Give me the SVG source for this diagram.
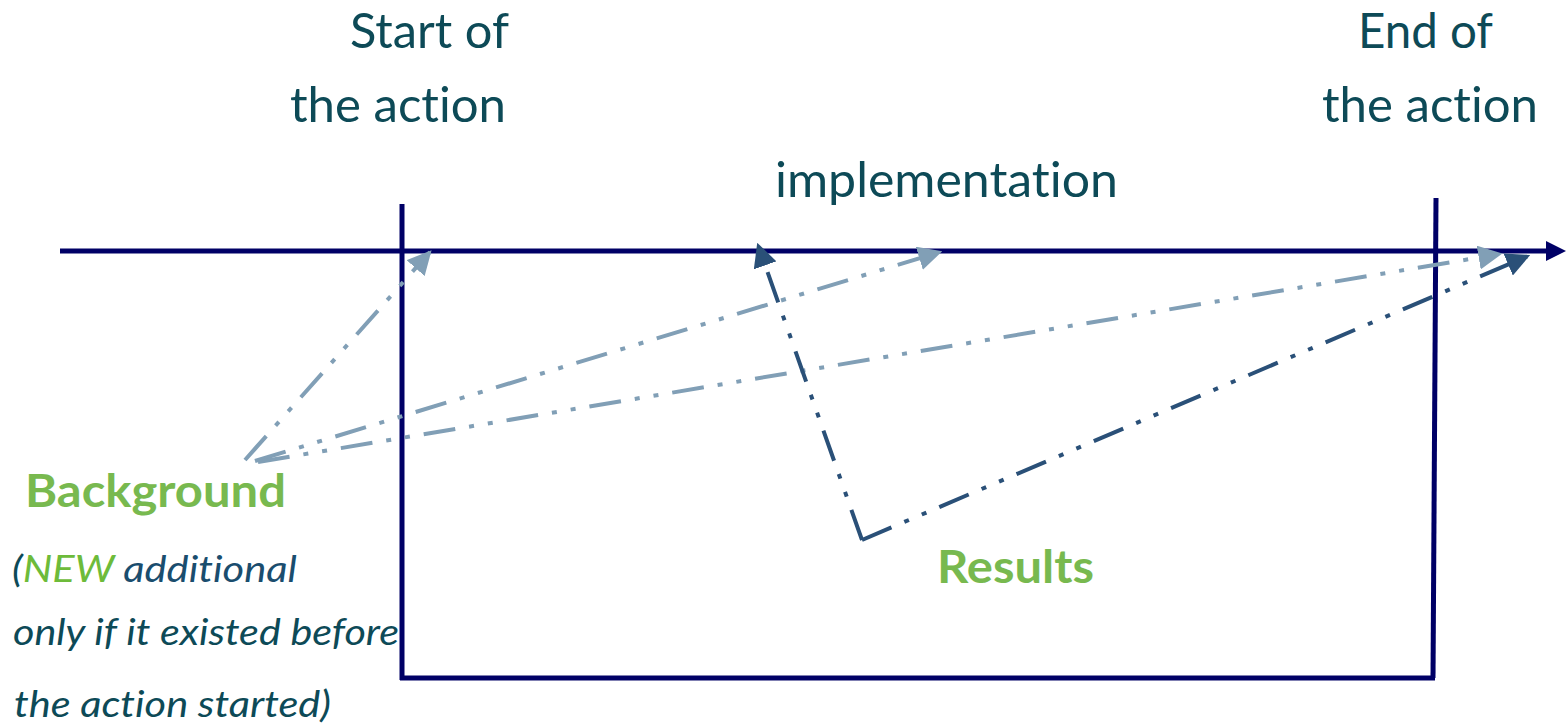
<svg xmlns="http://www.w3.org/2000/svg" width="1566" height="728" viewBox="0 0 1566 728">
<style>
text{font-variant-ligatures:none}
.t{font-family:Lato,"Open Sans","Liberation Sans",sans-serif;fill:#0d4a57;font-size:48px}
.g{font-family:Lato,"Open Sans","Liberation Sans",sans-serif;fill:#78b94f;font-size:45px;font-weight:bold}
.i{font-family:Lato,"Open Sans","Liberation Sans",sans-serif;fill:#0d4a57;font-size:37px;font-style:italic}
.frame{stroke:#000066;stroke-width:5;fill:none}
.lt{stroke:#819fb6;stroke-width:4;fill:none;stroke-dasharray:32 14 5 14 5 14}
.dk{stroke:#2a5078;stroke-width:4;fill:none;stroke-dasharray:32 14 5 14 5 14}
</style>
<defs>
<marker id="la" viewBox="0 0 10 10" refX="9" refY="5" markerWidth="6" markerHeight="6" orient="auto"><path d="M0,0 L10,5 L0,10 z" fill="#819fb6"/></marker>
<marker id="da" viewBox="0 0 10 10" refX="9" refY="5" markerWidth="6" markerHeight="6" orient="auto"><path d="M0,0 L10,5 L0,10 z" fill="#2a5078"/></marker>
</defs>
<g id="frame">
<line x1="60" y1="251" x2="1548" y2="251" class="frame"/>
<path d="M1546,241 L1566,251 L1546,261 z" fill="#000066"/>
<line x1="402" y1="204" x2="402" y2="680" class="frame"/>
<line x1="1436" y1="198" x2="1433" y2="678" class="frame"/>
<line x1="400" y1="678" x2="1435" y2="678" class="frame"/>
</g>
<g id="connectors">
<line x1="245" y1="460" x2="430" y2="252" class="lt" marker-end="url(#la)"/>
<line x1="255" y1="461" x2="940" y2="252" class="lt" marker-end="url(#la)"/>
<line x1="258" y1="462" x2="1500" y2="254" class="lt" marker-end="url(#la)"/>
<line x1="862" y1="540" x2="758" y2="245" class="dk" marker-end="url(#da)"/>
<line x1="862" y1="540" x2="1528" y2="256" class="dk" marker-end="url(#da)"/>
</g>
<g id="start-label">
<text class="t" x="350" y="48" textLength="159" lengthAdjust="spacingAndGlyphs">Start of</text>
<text class="t" x="290" y="122" textLength="216" lengthAdjust="spacingAndGlyphs">the action</text>
</g>
<g id="end-label">
<text class="t" x="1358" y="48" textLength="135" lengthAdjust="spacingAndGlyphs">End of</text>
<text class="t" x="1322" y="122" textLength="216" lengthAdjust="spacingAndGlyphs">the action</text>
</g>
<g id="implementation">
<text class="t" x="775" y="197" textLength="343" lengthAdjust="spacingAndGlyphs">implementation</text>
</g>
<g id="background">
<text class="g" x="25" y="507" textLength="261" lengthAdjust="spacingAndGlyphs">Background</text>
<text class="i" x="12" y="582" textLength="285" lengthAdjust="spacingAndGlyphs">(<tspan fill="#6dbb3a">NEW</tspan> <tspan fill="#1a4d6e">additional</tspan></text>
<text class="i" x="13" y="645" textLength="386" lengthAdjust="spacingAndGlyphs">only if it existed before</text>
<text class="i" x="14" y="717" textLength="317" lengthAdjust="spacingAndGlyphs">the action started)</text>
</g>
<g id="results">
<text class="g" x="937" y="583" textLength="157" lengthAdjust="spacingAndGlyphs">Results</text>
</g>
</svg>
